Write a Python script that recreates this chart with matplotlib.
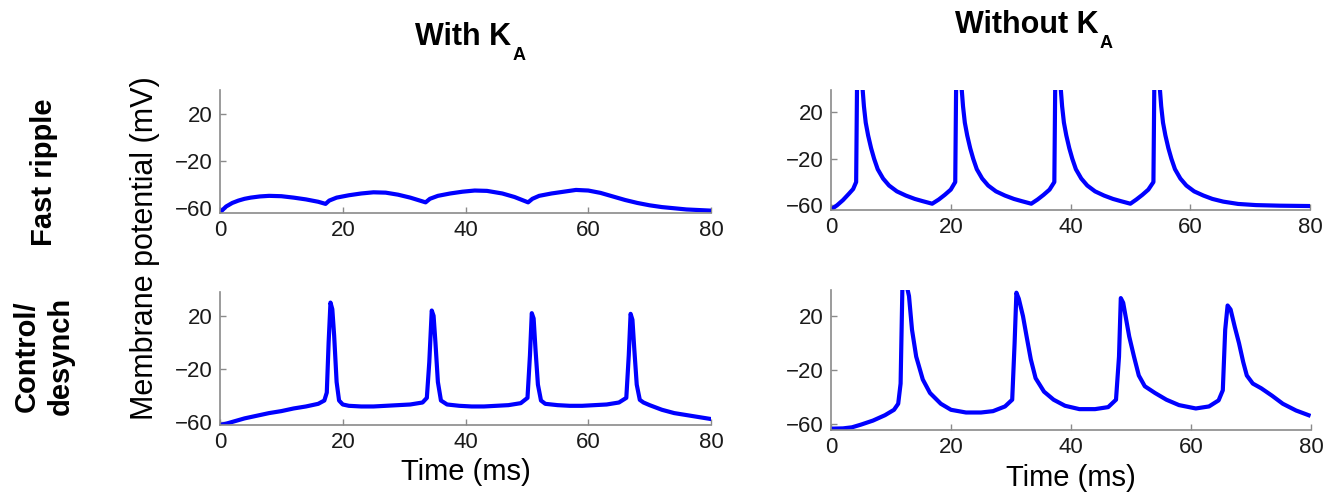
import matplotlib as mpl
mpl.use('Agg')
import matplotlib.pyplot as plt

plt.rcParams['font.family'] = ['Liberation Sans', 'DejaVu Sans']

# fast ripple, with K_A
t_fr_with = [0, 1, 2, 3, 4, 5, 6.5, 8, 10, 12, 14, 16, 17.2, 17.8, 19, 21, 23, 25, 27, 29, 31,
             33.5, 34.2, 35.5, 37.5, 39.5, 41.5, 43.5, 46, 48, 50.2, 50.9, 52, 54, 56, 58, 60,
             62, 64, 66, 68, 70, 72, 74, 76, 78, 80]
v_fr_with = [-63.5, -58.5, -55.5, -53.5, -52, -51, -50, -49.5, -49.8, -51, -52.5, -54.5, -56.3,
             -53.5, -51, -49, -47.5, -46.5, -46.8, -48.5, -51, -55, -52, -49.5, -47.5, -46, -45,
             -45.3, -47.5, -50.5, -55, -52, -49.5, -47.5, -46, -44.5, -45, -47, -50, -53, -55.5,
             -57.5, -59, -60, -61, -61.5, -62]

# fast ripple, without K_A
t_fr_without = [0, 1, 2, 3, 3.7, 4.2, 4.35, 5.2, 5.5, 5.8, 6.2, 6.7, 7.2, 7.8, 8.7, 9.7, 11, 12.5, 14, 15.3, 16.9,
                18, 19, 20, 20.75, 20.9, 21.75, 22.05, 22.35, 22.75, 23.25, 23.75, 24.35, 25.25, 26.25, 27.55,
                29.05, 30.55, 31.85, 33.45,
                34.5, 35.5, 36.5, 37.3, 37.45, 38.3, 38.6, 38.9, 39.3, 39.8, 40.3, 40.9, 41.8, 42.8, 44.1,
                45.6, 47.1, 48.4, 50,
                51, 52, 53, 53.85, 54.0, 54.85, 55.15, 55.45, 55.85, 56.35, 56.85, 57.45, 58.35, 59.35, 60.65,
                62.2, 63.7, 65.5, 68, 71, 75, 80]
v_fr_without = [-63.6, -60, -55.5, -50, -46, -40, 45, 45, 25, 11, 0, -11, -20, -29, -37, -43, -48, -51.6, -54.5, -56.4, -58.6,
                -55, -51, -46.5, -40, 45, 45, 25, 11, 0, -11, -20, -29, -37, -43, -48,
                -51.6, -54.5, -56.4, -58.6,
                -55, -51, -46.5, -40, 45, 45, 25, 11, 0, -11, -20, -29, -37, -43, -48,
                -51.6, -54.5, -56.4, -58.6,
                -55, -51, -46.5, -40, 45, 45, 25, 11, 0, -11, -20, -29, -37, -43, -48,
                -51.6, -54.5, -56.8, -58.8, -59.8, -60.3, -60.6]

# control / desynch, with K_A
t_ct_with = [0, 1, 2.5, 4, 6, 8, 10, 12, 14, 16, 17, 17.4, 17.7, 18.0, 18.3, 18.6, 19.0, 19.4, 20, 21,
             23, 25, 27, 29, 31, 33, 33.7, 34.1, 34.5, 34.8, 35.1, 35.5, 36, 37, 39, 41, 43, 45, 47,
             49, 50.1, 50.5, 50.8, 51.1, 51.4, 51.8, 52.3, 53, 55, 57, 59, 61, 63, 65, 66.2, 66.6,
             66.9, 67.2, 67.5, 67.9, 68.4, 69, 70, 72, 74, 76, 78, 80]
v_ct_with = [-62.5, -61.5, -59.5, -57.5, -55.5, -53.5, -52, -50, -48.5, -46.5, -44, -38, 0, 30, 25, 5,
             -30, -44, -47, -48, -48.5, -48.5, -48, -47.5, -47, -45.5, -42, -15, 24, 20, 0, -30, -44,
             -47, -48, -48.5, -48.5, -48, -47.5, -46, -42, -10, 22, 18, -5, -32, -44, -46.5, -47.5,
             -48, -48, -47.5, -47, -45.5, -42, -10, 21.5, 17, -5, -32, -43.5, -45.5, -47.5, -51,
             -53.5, -55, -56.5, -58]

# control / desynch, without K_A
t_ct_without = [0, 2, 3.5, 5, 7, 9, 10.5, 11.2, 11.6, 11.9, 12.5, 13.0, 13.5, 14.2, 15.3, 16.5, 18.3,
                20, 22.5, 25, 27, 29, 30.2, 30.6, 30.9, 31.3, 32, 32.6, 33.3, 34.1, 35.5, 37.1, 39,
                41.4, 44, 46.2, 47.5, 48.0, 48.3, 48.7, 49.1, 49.7, 50.5, 51.3, 52.3, 54, 55.9, 58,
                60.8, 63, 64.6, 65.3, 65.7, 66.1, 66.6, 67.3, 68, 68.7, 69.3, 70.3, 71.7, 73.5, 75.3,
                77.5, 79.6]
v_ct_without = [-63.5, -63.3, -62.5, -60.5, -57.5, -53.5, -49.5, -45, -30, 42, 45, 35, 10, -10, -27,
                -37, -45, -49.5, -51.5, -51.5, -50.5, -47, -42, 0, 37.5, 33, 20, 5, -12, -26, -36,
                -42, -46.5, -49, -49, -47.5, -42, -10, 33.5, 30, 20, 5, -10, -24, -32, -37, -42, -46,
                -48.5, -47, -42.5, -35, 10, 28, 25, 12, 0, -14, -24, -30, -33.5, -39, -45, -50, -53.5]

col_titles = ['With K', 'Without K']
col_sub = 'A'
row_titles = ['Fast ripple', 'Control/\ndesynch']

W, H = 1338, 503
fig = plt.figure(figsize=(W / 100, H / 100), dpi=100)

def box(x0, x1, ytop, ybot):
    return [x0 / W, (H - ybot) / H, (x1 - x0) / W, (ybot - ytop) / H]

panels = [
    (box(220, 711, 90, 213), t_fr_with, v_fr_with, (-64, 40), False),
    (box(831, 1310, 90, 210), t_fr_without, v_fr_without, (-64, 39), False),
    (box(220, 711, 292, 425), t_ct_with, v_ct_with, (-62.5, 38), True),
    (box(831, 1311, 290, 430), t_ct_without, v_ct_without, (-64.5, 39.5), True),
]

for rect, t, v, ylim, bottom in panels:
    ax = fig.add_axes(rect)
    ax.plot(t, v, color='#0000ff', lw=3, solid_joinstyle='round')
    ax.set_xlim(0, 80)
    ax.set_ylim(*ylim)
    ax.set_xticks([0, 20, 40, 60, 80])
    ax.set_yticks([-60, -20, 20])
    for s in ['top', 'right']:
        ax.spines[s].set_visible(False)
    for s in ['left', 'bottom']:
        ax.spines[s].set_color('#8a8a8a')
        ax.spines[s].set_linewidth(1.2)
    ax.tick_params(direction='in', length=4, width=1, color='#8a8a8a',
                   labelsize=16, labelcolor='#1a1a1a', pad=5)
    if bottom:
        ax.set_xlabel('Time (ms)', fontsize=21, labelpad=4)

# column titles with a dropped subscript A
renderer = fig.canvas.get_renderer()
for title, x0, base in [(col_titles[0], 415, 45), (col_titles[1], 955, 33)]:
    txt = fig.text(x0 / W, 1 - base / H, title, fontsize=22, fontweight='bold',
                   ha='left', va='baseline')
    bb = txt.get_window_extent(renderer)
    fig.text((bb.x1 + 1) / W, 1 - (base + 15) / H, col_sub, fontsize=13,
             fontweight='bold', ha='left', va='baseline')

fig.text(44 / W, 1 - 172 / H, row_titles[0], fontsize=21, fontweight='bold',
         rotation=90, ha='center', va='center')
fig.text(44 / W, 1 - 356 / H, row_titles[1], fontsize=21, fontweight='bold',
         rotation=90, ha='center', va='center', linespacing=1.25)
fig.text(145 / W, 1 - 248 / H, 'Membrane potential (mV)', fontsize=22,
         rotation=90, ha='center', va='center')

fig.savefig('out.png', dpi=100)
